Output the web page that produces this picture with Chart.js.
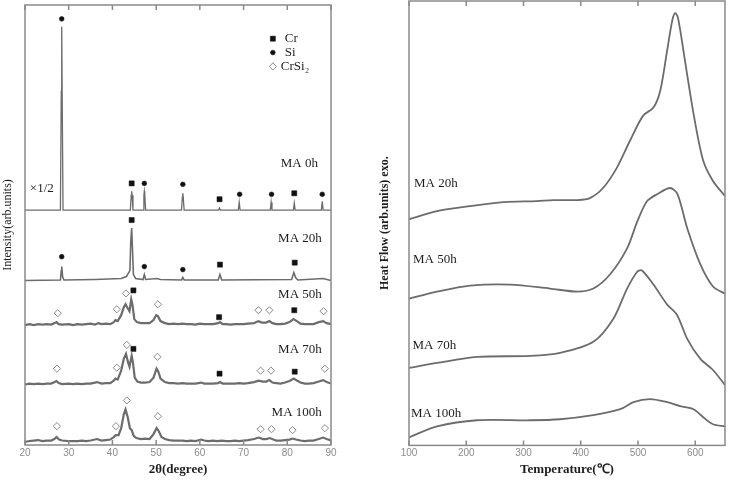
<!DOCTYPE html>
<html>
<head>
<meta charset="utf-8">
<script src="https://cdn.jsdelivr.net/npm/chart.js@4.4.0/dist/chart.umd.min.js"></script>
<style>
  html, body { margin: 0; padding: 0; background: #fff; }
  #wrap { position: relative; width: 734px; height: 481px; }
  .box { position: absolute; top: 0; width: 367px; height: 481px; }
</style>
</head>
<body>
<div id="wrap">
  <div class="box" style="left:0"><canvas id="xrdChart"></canvas></div>
  <div class="box" style="left:367px"><canvas id="dscChart"></canvas></div>
</div>
<script>
// {XRD 패턴 - 왼쪽}
const xrdTicks = [20, 30, 40, 50, 60, 70, 80, 90];
const xrdNames = ['MA 0h', 'MA 20h', 'MA 50h', 'MA 70h', 'MA 100h'];
// 각 패턴을 쌓아 올리는 기준선 (임의 단위)
const xrdOffsets = [237, 166, 121, 61, 3];

// [2θ, 강도] (기준선 위 높이)
const xrd0h = [[20,0],[28.1,0],[28.3,120],[28.4,185],[28.5,120],[28.7,0],[44.1,0],[44.3,15],[44.4,19],[44.5,15],[44.7,0],
  [47.0,0],[47.2,15],[47.3,19],[47.4,15],[47.6,0],[55.8,0],[56.0,13],[56.1,17],[56.2,13],[56.4,0],[64.3,0],[64.5,2],[64.7,0],
  [68.8,0],[69.0,8],[69.2,0],[76.1,0],[76.3,8],[76.5,0],[81.4,0],[81.6,7],[81.8,0],[87.8,0],[88.0,9],[88.2,0],[90,0]];
const xrd20h = [[20,0],[28.1,0.5],[28.3,10],[28.4,14],[28.6,4],[28.9,0.5],[36,1],[42,2],[43.2,4],[44.0,10],[44.2,40],[44.4,53],
  [44.6,30],[44.8,6],[45.3,2],[47.0,1],[47.3,6],[47.6,1],[50.2,2],[51,1],[55.8,0.5],[56.1,3],[56.4,0.5],[64.2,0.5],[64.6,6],
  [65.0,0.5],[81.0,1],[81.5,8],[81.9,3],[82.4,0.5],[88.2,2],[90,0]];
const xrd50h = [[20,0],[21,1],[22,0],[23,1],[24,0.5],[25,1],[26,0.5],[26.8,2],[27.2,3],[27.7,1],[28.5,0.5],[30,1],[31,0],[32,1],
  [33,0.5],[34,1],[35,1.5],[36,0.5],[36.8,2],[37.5,1],[38.5,1.5],[39.5,1],[40.3,3],[40.7,5],[41.2,4],[42,10],[42.6,18],[43.0,21],
  [43.5,17],[43.9,14],[44.3,26],[44.6,20],[45.0,6],[45.6,3],[46.5,2],[47.5,2],[48.5,2],[49.4,5],[50.0,10],[50.4,9],[51,4],[52,2],
  [53,1],[54,1.5],[55,1],[56,1.5],[57,1],[58,1],[59,0.5],[60,1.5],[61,1],[62,1],[63,1],[64.2,2],[64.6,3],[65.2,1],[66,1],[67,0.5],
  [68,1],[69,1],[70,1],[71,1.5],[72.4,2],[73.4,4],[74.2,2.5],[75.2,2.5],[75.9,4],[76.6,2],[77.5,1],[78.5,1],[79.5,1.5],[80.5,3],
  [81.4,6],[82.2,4],[83,1.5],[84,1],[85,1],[86,1],[87.2,3],[88.2,4],[89,2],[90,1]];
const xrd70h = [[20,0],[21,1],[22,0.5],[23,1],[24,0.5],[25,1],[26,1],[26.8,2.5],[27.2,3.5],[27.7,1.5],[28.5,0.5],[30,1],[31,0.5],
  [32,1],[33,0.5],[34,1],[35,1],[36.5,2.5],[37.5,1],[38.5,1.5],[39.5,1.5],[40.3,4],[40.7,6],[41.2,5],[42,14],[42.6,26],[43.1,31],
  [43.6,22],[43.9,18],[44.4,29],[44.7,22],[45.1,7],[45.7,3],[46.5,2],[47.5,2],[48.5,2.5],[49.4,7],[50.1,16],[50.5,13],[51,6],
  [52,2.5],[53,1.5],[54,1.5],[55,1],[56,1.5],[57,1],[58,1],[59,1],[60.3,2],[61,1],[62,1],[63,1],[64.2,1.5],[64.6,2.5],[65.2,1],
  [66,1],[67,1],[68,1],[69,1.5],[70,1],[71,1.5],[72.4,2.5],[73.5,4],[74.4,3],[75.2,3],[75.9,4.5],[76.6,2],[77.5,1.5],[78.5,1],
  [79.5,2],[80.5,3.5],[81.5,6],[82.2,4],[83,2],[84,1],[85,1],[86,1.5],[87.2,3],[88.2,4.5],[89,2.5],[90,1]];
const xrd100h = [[20,0],[21,1],[22,1.5],[23,2],[24,1],[25,1.5],[26,1.5],[26.7,3],[27.2,5],[27.8,2.5],[28.5,1.5],[30,1],[31,1],
  [32,1],[33,1.5],[34,1],[35,1.5],[36.5,3],[37.5,1.5],[38.5,2],[39.5,2.5],[40.3,5],[40.8,7],[41.4,7],[42,14],[42.6,28],[43.0,33],
  [43.5,25],[44.0,14],[44.4,12],[44.9,6],[45.5,4],[46.5,3],[47.5,3.5],[48.5,3],[49.4,8],[50.1,14],[50.6,11],[51.2,5],[52,3],
  [53,2],[54,1.5],[55,1.5],[56,1.5],[57,1],[58,1.5],[59,1],[60.3,2.5],[61,1.5],[62,1],[63,1.5],[64,1],[65,1.5],[66,1],[67,1],
  [68,1.5],[69,1],[70,1.5],[71,2],[72.4,3],[73.5,4.5],[74.4,3],[75.2,3],[76,4],[76.8,2.5],[77.5,1.5],[78.5,1.5],[79.5,2],
  [80.5,2.5],[81.2,3.5],[82,2.5],[83,1.5],[84,1],[85,1.5],[86,1.5],[87.2,3],[88.2,4.5],[89,3],[90,1.5]];
const xrdSeries = [xrd0h, xrd20h, xrd50h, xrd70h, xrd100h];

// 피크 표시 [상, 2θ, 기준선 위 높이]
const phases = ['Cr', 'Si', 'CrSi₂'];
const marks0h = [['Si',28.4,193],['Cr',44.4,27],['Si',47.3,27],['Si',56.1,26],['Cr',64.5,11],['Si',69.1,16],['Si',76.4,16],['Cr',81.6,17],['Si',88.0,16]];
const marks20h = [['Si',28.4,24],['Cr',44.4,61],['Si',47.3,14],['Si',56.1,11],['Cr',64.6,16],['Cr',81.7,18]];
const marks50h = [['CrSi₂',27.5,12],['CrSi₂',41.0,16],['CrSi₂',43.1,32],['Cr',44.8,35],['CrSi₂',50.4,21],['Cr',64.4,8],
  ['CrSi₂',73.4,15],['CrSi₂',75.9,15],['Cr',81.6,15],['CrSi₂',88.3,14]];
const marks70h = [['CrSi₂',27.3,16],['CrSi₂',41.0,17],['CrSi₂',43.3,40],['Cr',44.8,36],['CrSi₂',50.3,28],['Cr',64.5,11],
  ['CrSi₂',73.9,14],['CrSi₂',76.3,14],['Cr',81.7,13],['CrSi₂',88.6,16]];
const marks100h = [['CrSi₂',27.3,16],['CrSi₂',40.8,16],['CrSi₂',43.3,42],['CrSi₂',50.4,26],['CrSi₂',73.9,13],['CrSi₂',76.4,13],
  ['CrSi₂',81.2,12],['CrSi₂',88.6,14]];
const xrdMarks = [marks0h, marks20h, marks50h, marks70h, marks100h];

// {DSC 곡선 - 오른쪽}
const dscTicks = [100, 200, 300, 400, 500, 600];
const dscNames = ['MA 20h', 'MA 50h', 'MA 70h', 'MA 100h'];
// [온도(℃), 열류 (임의 단위, 쌓인 상태)]
const dsc20h = [[100,225],[149,233],[207,238],[265,242],[323,243],[352,244],[394,244],[416,246],[439,256],[463,276],[486,303],
  [509,328],[527,336],[539,353],[551,393],[560,423],[565,430],[570,425],[582,383],[597,330],[614,283],[631,263],[652,248]];
const dsc50h = [[100,146],[149,153],[207,159],[277,160],[346,156],[394,153],[422,156],[451,170],[481,196],[499,223],[516,243],
  [534,250],[556,256],[569,250],[586,216],[609,180],[631,158],[652,151]];
const dsc70h = [[100,77],[149,82],[219,88],[312,89],[364,92],[422,103],[457,126],[481,156],[499,173],[507,174],[527,160],
  [551,140],[568,130],[586,106],[609,86],[631,75],[652,60]];
const dsc100h = [[100,8],[149,19],[219,25],[312,25],[364,26],[422,30],[469,36],[492,43],[521,46],[551,43],[574,39],[597,36],
  [614,28],[631,21],[652,19]];
const dscSeries = [dsc20h, dsc50h, dsc70h, dsc100h];

const toXY = (arr, off = 0) => arr.map(p => ({ x: p[0], y: p[1] + off }));

const lineGray = '#6c6c6c';
const frameGray = '#8a8a8a';
const tickFont = { family: 'Liberation Sans, Arial, sans-serif', size: 10 };
const serif = 'Liberation Serif, Times New Roman, serif';

const markStyles = {
  'Cr':    { pointStyle: 'rect', radius: 3.6, backgroundColor: '#111', borderColor: '#111', borderWidth: 0.5 },
  'Si':    { pointStyle: 'circle', radius: 2.4, backgroundColor: '#111', borderColor: '#111', borderWidth: 0.5 },
  'CrSi₂': { pointStyle: 'rectRot', radius: 3.6, backgroundColor: '#fff', borderColor: '#8a8a8a', borderWidth: 1 }
};

// 테두리 + 안쪽 눈금
const frameTicks = {
  id: 'frameTicks',
  afterDatasetsDraw(chart) {
    const { ctx, chartArea: a, scales: { x } } = chart;
    ctx.save();
    ctx.strokeStyle = frameGray;
    ctx.lineWidth = 1.5;
    ctx.strokeRect(a.left, a.top, a.right - a.left, a.bottom - a.top);
    ctx.beginPath();
    x.ticks.forEach(t => {
      const px = x.getPixelForValue(t.value);
      ctx.moveTo(px, a.top); ctx.lineTo(px, a.top + 5);
      ctx.moveTo(px, a.bottom); ctx.lineTo(px, a.bottom - 5);
    });
    ctx.stroke();
    ctx.restore();
  }
};

// 글자와 범례 표시
const notes = {
  id: 'notes',
  afterDatasetsDraw(chart, args, opts) {
    const { ctx, scales: { x, y } } = chart;
    ctx.save();
    (opts.items || []).forEach(it => {
      const px = x.getPixelForValue(it.x), py = y.getPixelForValue(it.y);
      if (it.mark) {
        const s = markStyles[it.mark];
        ctx.fillStyle = s.backgroundColor; ctx.strokeStyle = s.borderColor; ctx.lineWidth = s.borderWidth;
        Chart.helpers.drawPoint(ctx, { pointStyle: s.pointStyle, radius: s.radius, rotation: 0, borderWidth: s.borderWidth }, px, py);
      }
      if (it.text) {
        ctx.font = it.font || '13px ' + serif;
        ctx.fillStyle = '#1e1e1e';
        ctx.textAlign = it.align || 'left';
        ctx.textBaseline = 'middle';
        ctx.fillText(it.text, px + (it.dx || 0), py);
      }
    });
    ctx.restore();
  }
};

// 데이터셋 만들기
const xrdDatasets = xrdSeries.map((s, i) => ({
  label: xrdNames[i],
  data: toXY(s, xrdOffsets[i]),
  showLine: true,
  borderColor: lineGray,
  borderWidth: i === 0 ? 1.3 : (i === 1 ? 1.6 : 2.2),
  pointRadius: 0,
  tension: 0
}));
phases.forEach(ph => {
  const pts = [];
  xrdMarks.forEach((list, i) => list.forEach(m => { if (m[0] === ph) pts.push({ x: m[1], y: m[2] + xrdOffsets[i] }); }));
  const s = markStyles[ph];
  xrdDatasets.push({
    label: ph, data: pts, showLine: false,
    pointStyle: s.pointStyle, pointRadius: s.radius, pointBackgroundColor: s.backgroundColor,
    pointBorderColor: s.borderColor, pointBorderWidth: s.borderWidth
  });
});

const ChartX = document.getElementById('xrdChart');
const xrdChart = new Chart(ChartX, {
  type: 'scatter',
  data: { datasets: xrdDatasets },
  plugins: [frameTicks, notes],
  options: {
    responsive: true, maintainAspectRatio: false, animation: false,
    layout: { padding: { left: 0, right: 36, top: 1, bottom: 2 } },
    scales: {
      x: {
        type: 'linear', min: 20, max: 90,
        afterBuildTicks: sc => { sc.ticks = xrdTicks.map(v => ({ value: v })); },
        grid: { display: false, drawTicks: false },
        border: { display: false },
        ticks: { font: tickFont, color: '#8c8c8c', padding: 2 },
        title: { display: true, text: '2θ(degree)', color: '#1e1e1e', font: { family: serif, size: 13, weight: 'bold', lineHeight: 1.385 }, padding: { top: 0, bottom: 0 } }
      },
      y: {
        min: 0, max: 444,
        grid: { display: false, drawTicks: false },
        border: { display: false },
        ticks: { display: false },
        title: { display: true, text: 'Intensity(arb.units)', color: '#1e1e1e', font: { family: serif, size: 12 }, padding: { top: 1, bottom: 9.6 } }
      }
    },
    plugins: {
      legend: { display: false },
      tooltip: { enabled: false },
      notes: {
        items: [
          { text: 'MA 0h', x: 87.0, y: 284, align: 'right' },
          { text: 'MA 20h', x: 87.9, y: 208, align: 'right' },
          { text: 'MA 50h', x: 87.9, y: 152, align: 'right' },
          { text: 'MA 70h', x: 87.9, y: 96, align: 'right' },
          { text: 'MA 100h', x: 87.9, y: 33, align: 'right' },
          { text: '×1/2', x: 21.1, y: 259 },
          { mark: 'Cr', text: 'Cr', x: 76.7, y: 410, dx: 12 },
          { mark: 'Si', text: 'Si', x: 76.7, y: 396, dx: 12 },
          { mark: 'CrSi₂', text: 'CrSi₂', x: 76.7, y: 382, dx: 8 }
        ]
      }
    }
  }
});

const ChartD = document.getElementById('dscChart');
const dscChart = new Chart(ChartD, {
  type: 'scatter',
  data: {
    datasets: dscSeries.map((s, i) => ({
      label: dscNames[i],
      data: toXY(s),
      showLine: true,
      borderColor: lineGray,
      borderWidth: 1.8,
      pointRadius: 0,
      tension: 0.3
    }))
  },
  plugins: [frameTicks, notes],
  options: {
    responsive: true, maintainAspectRatio: false, animation: false,
    layout: { padding: { left: 4, right: 9, top: 1, bottom: 4 } },
    scales: {
      x: {
        type: 'linear', min: 100, max: 652,
        afterBuildTicks: sc => { sc.ticks = dscTicks.map(v => ({ value: v })); },
        grid: { display: false, drawTicks: false },
        border: { display: false },
        ticks: { font: tickFont, color: '#8c8c8c', padding: 2 },
        title: { display: true, text: 'Temperature(℃)', color: '#1e1e1e', font: { family: serif, size: 13, weight: 'bold' }, padding: { top: 0, bottom: 0 } }
      },
      y: {
        min: 0, max: 442,
        grid: { display: false, drawTicks: false },
        border: { display: false },
        ticks: { display: false },
        title: { display: true, text: 'Heat Flow (arb.units) exo.', color: '#1e1e1e', font: { family: serif, size: 12, weight: 'bold' }, padding: { top: 7, bottom: 16.6 } }
      }
    },
    plugins: {
      legend: { display: false },
      tooltip: { enabled: false },
      notes: {
        items: [
          { text: 'MA 20h', x: 108.7, y: 260 },
          { text: 'MA 50h', x: 107, y: 185 },
          { text: 'MA 70h', x: 106, y: 99 },
          { text: 'MA 100h', x: 103.5, y: 32 }
        ]
      }
    }
  }
});
</script>
</body>
</html>
